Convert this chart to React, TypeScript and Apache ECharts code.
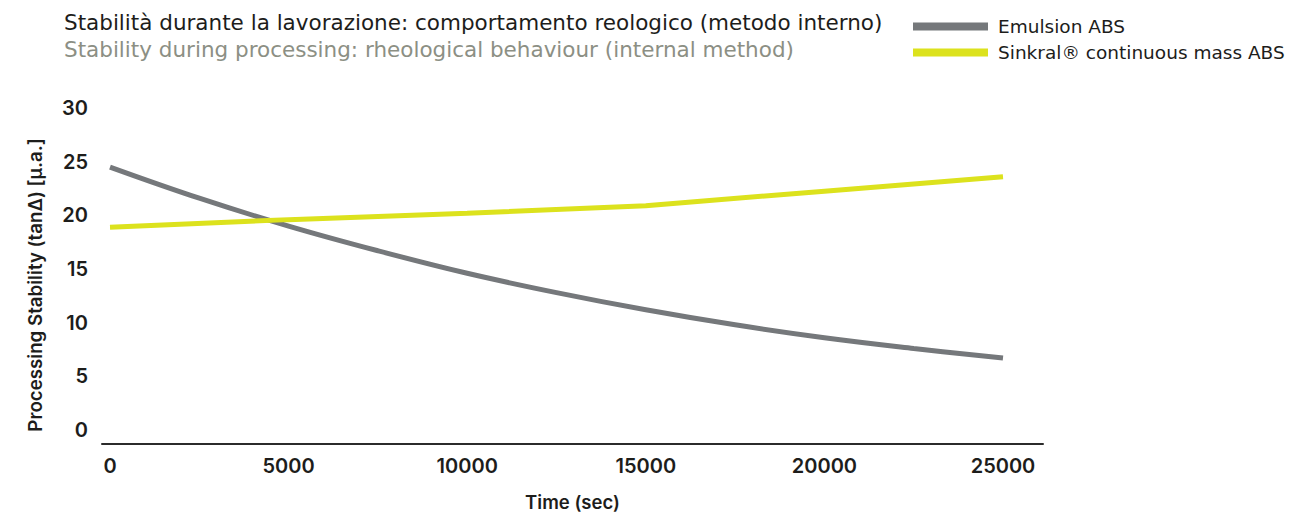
import React, { useEffect, useRef } from "react";
import * as echarts from "echarts";

const titleIt = "Stabilità durante la lavorazione: comportamento reologico (metodo interno)";
const titleEn = "Stability during processing: rheological behaviour (internal method)";
const seriesNames = ["Emulsion ABS", "Sinkral® continuous mass ABS"];

const emulsionTime = [0, 2500, 5000, 7500, 10000, 12500, 15000, 17500, 20000, 22500, 25000];
const emulsionValues = [24.5, 21.6, 19.0, 16.7, 14.6, 12.8, 11.2, 9.8, 8.6, 7.6, 6.7];

const sinkralTime = [0, 5000, 10000, 15000, 20000, 25000];
const sinkralValues = [18.9, 19.6, 20.2, 20.9, 22.25, 23.6];

const xTickValues = [0, 5000, 10000, 15000, 20000, 25000];
const yAxisName = "Processing Stability (tanΔ) [µ.a.]";
const xAxisName = "Time (sec)";

const FONT = "Inter, 'DejaVu Sans', sans-serif";
const WIDE = "'DejaVu Sans', sans-serif";

export default function App() {
  const ref = useRef<HTMLDivElement>(null);
  useEffect(() => {
    if (!ref.current) return;
    const chart = echarts.init(ref.current, null, { renderer: "svg" });
    chart.setOption({
      animation: false,
      backgroundColor: "#ffffff",
      textStyle: { fontFamily: FONT },
      title: {
        text: titleIt,
        subtext: titleEn,
        left: 64,
        top: 11,
        padding: 0,
        itemGap: 5,
        textStyle: { fontFamily: WIDE, fontSize: 21.5, fontWeight: "normal", color: "#1d1d1b" },
        subtextStyle: { fontFamily: WIDE, fontSize: 21.5, color: "#8c8f84" },
      },
      legend: {
        orient: "vertical",
        left: 913,
        top: 17,
        icon: "rect",
        itemWidth: 75,
        itemHeight: 8,
        itemGap: 7,
        padding: 0,
        textStyle: { fontFamily: WIDE, fontSize: 18.5, color: "#1d1d1b", padding: [0, 0, 0, 5], lineHeight: 19 },
        data: seriesNames,
      },
      grid: { left: 102, right: 270, top: 108, bottom: 83, containLabel: false, outerBoundsMode: "none" },
      xAxis: {
        type: "value",
        min: -224,
        max: 26120,
        offset: 14,
        name: xAxisName,
        nameLocation: "middle",
        nameGap: 48,
        nameTextStyle: { fontFamily: FONT, fontSize: 18.5, fontWeight: 600, color: "#1d1d1b", verticalAlign: "top" },
        axisLine: { show: true, onZero: false, lineStyle: { color: "#2b2b2b", width: 2 } },
        axisTick: { show: false },
        splitLine: { show: false },
        axisLabel: {
          customValues: xTickValues,
          formatter: (v: number) => String(v),
          margin: 12,
          fontFamily: FONT,
          fontSize: 20,
          fontWeight: 600,
          color: "#1d1d1b",
        },
      },
      yAxis: {
        type: "value",
        min: 0,
        max: 30,
        interval: 5,
        axisLine: { show: false },
        axisTick: { show: false },
        splitLine: { show: false },
        axisLabel: { margin: 14, fontFamily: FONT, fontSize: 20, fontWeight: 600, color: "#1d1d1b" },
      },
      graphic: [
        {
          type: "text",
          x: 35,
          y: 285,
          rotation: Math.PI / 2,
          style: {
            text: yAxisName,
            fontFamily: FONT,
            fontSize: 18.7,
            fontWeight: 600,
            fill: "#1d1d1b",
            align: "center",
            verticalAlign: "middle",
          },
        },
      ],
      series: [
        {
          name: seriesNames[0],
          type: "line",
          data: emulsionTime.map((t, i) => [t, emulsionValues[i]]),
          smooth: 0.4,
          showSymbol: false,
          lineStyle: { color: "#75787b", width: 5 },
          itemStyle: { color: "#75787b" },
        },
        {
          name: seriesNames[1],
          type: "line",
          data: sinkralTime.map((t, i) => [t, sinkralValues[i]]),
          showSymbol: false,
          lineStyle: { color: "#dce21d", width: 5 },
          itemStyle: { color: "#dce21d" },
        },
      ],
    });
    return () => chart.dispose();
  }, []);
  return <div ref={ref} style={{ position: "fixed", left: 0, top: 0, width: 1313, height: 513 }} />;
}
